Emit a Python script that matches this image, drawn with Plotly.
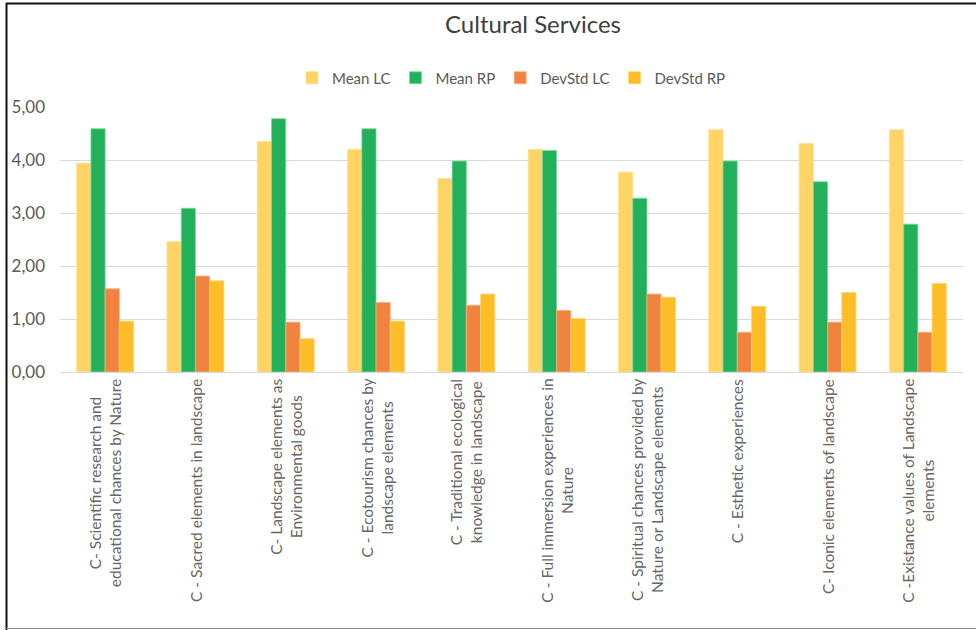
import plotly.graph_objects as go

categories = [
    "C- Scientific research and<br>educational chances by Nature",
    "C - Sacred elements in landscape",
    "C- Landscape elements as<br>Environmental goods",
    "C - Ecotourism chances by<br>landscape elements",
    "C - Traditional ecological<br>knowledge in landscape",
    "C - Full immersion experiences in<br>Nature",
    "C - Spiritual chances provided by<br>Nature or Landscape elements",
    "C - Esthetic experiences",
    "C- Iconic elements of landscape",
    "C -Existance values of Landscape<br>elements",
]
mean_lc = [3.94, 2.46, 4.35, 4.20, 3.65, 4.20, 3.77, 4.57, 4.31, 4.57]
mean_rp = [4.59, 3.09, 4.78, 4.59, 3.98, 4.18, 3.28, 3.98, 3.59, 2.79]
devstd_lc = [1.57, 1.81, 0.94, 1.31, 1.26, 1.16, 1.47, 0.75, 0.94, 0.75]
devstd_rp = [0.96, 1.72, 0.63, 0.96, 1.47, 1.01, 1.41, 1.24, 1.50, 1.67]

series = [
    ("Mean LC", mean_lc, "#FFD465", "#FFE08F"),
    ("Mean RP", mean_rp, "#22B05B", "#7FD99F"),
    ("DevStd LC", devstd_lc, "#F0843F", "#F6AE80"),
    ("DevStd RP", devstd_rp, "#FDBD26", "#FFD57A"),
]

W, H = 976, 630
L, R, T, B = 60, 13, 107, 258
pw, ph = W - L - R, H - T - B
FONT = "Lato, Open Sans, sans-serif"

fig = go.Figure()
xs = list(range(len(categories)))
for name, vals, col, edge in series:
    fig.add_trace(go.Bar(x=xs, y=vals, name=name,
                         marker=dict(color=col, line=dict(color=edge, width=0.8))))

annotations = []
for i, c in enumerate(categories):
    annotations.append(dict(x=i, xref="x", y=-5 / ph, yref="paper", text=c,
                            showarrow=False, textangle=-90, align="center",
                            xanchor="center", yanchor="top",
                            font=dict(family=FONT, size=15.5, color="#666666")))

def px_x(p):
    return (p - L) / pw

def px_y(p):
    return (H - B - p) / ph

shapes = [
    dict(type="line", xref="paper", yref="paper", x0=px_x(6), x1=px_x(W), y0=px_y(3.5), y1=px_y(3.5),
         line=dict(color="#111111", width=2)),
    dict(type="line", xref="paper", yref="paper", x0=px_x(6.5), x1=px_x(6.5), y0=px_y(3), y1=px_y(H),
         line=dict(color="#111111", width=2)),
    dict(type="line", xref="paper", yref="paper", x0=px_x(6), x1=px_x(W), y0=px_y(628.5), y1=px_y(628.5),
         line=dict(color="#8c8c8c", width=1)),
]

fig.update_layout(
    width=W, height=H,
    margin=dict(l=L, r=R, t=T, b=B),
    paper_bgcolor="white", plot_bgcolor="white",
    separators=",.",
    barmode="group", bargap=0.37, bargroupgap=0,
    font=dict(family=FONT, color="#595959"),
    title=dict(text="Cultural Services", x=533 / W, xref="container", xanchor="center",
               y=1 - 25 / H, yref="container", yanchor="middle",
               font=dict(size=24, color="#404040", family=FONT)),
    legend=dict(orientation="h", x=0.5, xanchor="center", y=px_y(78), yanchor="middle",
                font=dict(size=15, color="#595959"), itemwidth=30, traceorder="normal",
                bgcolor="rgba(0,0,0,0)"),
    xaxis=dict(range=[-0.5, len(categories) - 0.5], showticklabels=False, showgrid=False,
               zeroline=False, showline=False, ticks=""),
    yaxis=dict(range=[0, 5], dtick=1, tickformat=".2f", showgrid=True, gridcolor="#D9D9D9",
               gridwidth=1, zeroline=True, zerolinecolor="#D9D9D9", zerolinewidth=1,
               showline=False, ticks="", ticklabelstandoff=14,
               tickfont=dict(size=17, color="#595959")),
    annotations=annotations,
    shapes=shapes,
    showlegend=True,
)

fig.write_html("out.html", config={"displayModeBar": False},
               post_script="document.body.style.margin='0';document.body.style.overflow='hidden';")
